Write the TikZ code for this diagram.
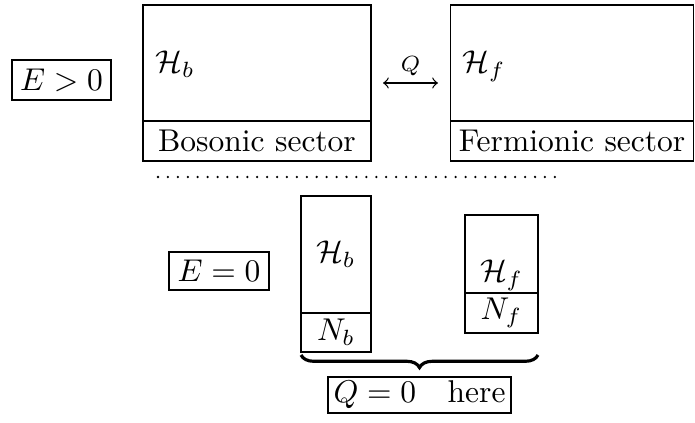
\documentclass[tikz,border=0pt]{standalone}
\usepackage{amsmath}
\usetikzlibrary{decorations.pathreplacing}
\def\u{0.3175pt}
\tikzset{
  box/.style={draw, inner sep=0pt, line width=0.4pt},
  lab/.style={inner sep=0pt},
  dotline/.style={line width=0.8pt, line cap=round, dash pattern=on 0pt off 3.15pt},
}
\begin{document}
\begin{tikzpicture}[x=\u, y=-\u]
\useasboundingbox (0,0) rectangle (695,423);
% top row
\node[box, minimum width=99*\u, minimum height=40*\u] (egt) at (61.5,80) {$E>0$};
\node[box, minimum width=228*\u, minimum height=116*\u] (btop) at (257,63) {};
\node[box, minimum width=228*\u, minimum height=40*\u] (bbot) at (257,141) {Bosonic sector};
\node[box, minimum width=243*\u, minimum height=116*\u] (ftop) at (572,63) {};
\node[box, minimum width=243*\u, minimum height=40*\u] (fbot) at (572,141) {Fermionic sector};
\node[lab, anchor=base west] (hb) at (155,73) {$\mathcal{H}_b$};
\node[lab, anchor=base west] (hf) at (462,73) {$\mathcal{H}_f$};
\coordinate (qa) at (383,83);
\coordinate (qb) at (438,83);
\draw[<->] (qa) -- node[above, inner sep=2pt] (q) {$\scriptstyle Q$} (qb);
% separator
\coordinate (d1) at (158,177);
\coordinate (d2) at (560,177);
\draw[dotline] (d1) -- (d2);
% bottom row
\node[box, minimum width=100*\u, minimum height=38*\u] (eeq) at (219,271) {$E=0$};
\node[box, minimum width=70*\u, minimum height=117*\u] (nbtop) at (336,254.5) {$\mathcal{H}_b$};
\node[box, minimum width=70*\u, minimum height=39*\u] (nbbot) at (336,332.5) {$N_b$};
\node[box, minimum width=73*\u, minimum height=78*\u] (nftop) at (501.5,254) {};
\node[box, minimum width=73*\u, minimum height=40*\u] (nfbot) at (501.5,313) {$N_f$};
\node[lab, anchor=base] (hf2) at (501.5,282) {$\mathcal{H}_f$};
\coordinate (b1) at (301,355);
\coordinate (b2) at (538,355);
\draw[decorate, decoration={brace, mirror, amplitude=4pt}, line width=1pt] (b1) -- (b2);
\node[box, minimum width=183*\u, minimum height=36*\u] (qz) at (419.5,395) {$Q=0\quad\text{here}$};
\end{tikzpicture}
\end{document}
